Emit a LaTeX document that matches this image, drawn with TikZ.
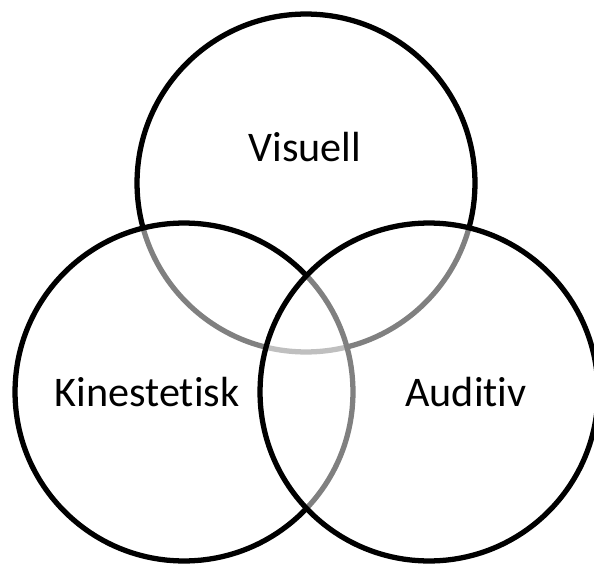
\documentclass[tikz,border=0pt]{standalone}
\usepackage{fontspec}
\setmainfont{Carlito}[Ligatures=NoCommon]
\usetikzlibrary{positioning}

\tikzset{
  setcircle/.style={circle, draw=black, line width=3pt, fill=white,
    fill opacity=0.5, draw opacity=1, minimum size=6.76cm,
    inner sep=0pt, outer sep=0pt},
  setlabel/.style={font=\fontsize{24}{29}\selectfont, inner sep=0pt}
}

\begin{document}
\begin{tikzpicture}[x=0.02cm, y=-0.02cm]
  \useasboundingbox (0,0) rectangle (594,564);
  % the three sets, drawn in this order so later fills grey out earlier lines
  \node[setcircle] (visual) at (306,183) {};
  \node[setcircle] (kinest) at (184,392) {};
  \node[setcircle] (audit)  at (429,392) {};
  % labels
  \node[setlabel] (visuallabel) at (305,147) {Visuell};
  \node[setlabel] (kinestlabel) at (147,392) {Kinestetisk};
  \node[setlabel] (auditlabel)  at (466,392) {Auditiv};
\end{tikzpicture}
\end{document}
